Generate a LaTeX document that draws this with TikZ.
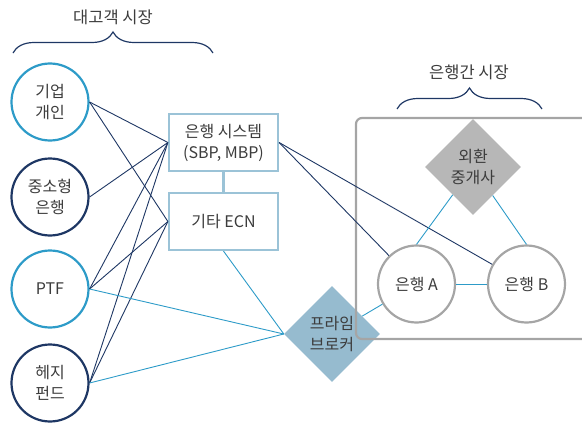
\documentclass[tikz,border=0pt]{standalone}
\usepackage{fontspec}
\setmainfont{Noto Sans CJK KR}
\usetikzlibrary{shapes.geometric, decorations.pathreplacing}
\definecolor{navy}{RGB}{30, 55, 100}
\definecolor{cyanblue}{RGB}{45, 155, 200}
\definecolor{boxblue}{RGB}{155, 195, 215}
\definecolor{pbblue}{RGB}{150, 187, 207}
\definecolor{framegray}{RGB}{165, 165, 165}
\definecolor{fxgray}{RGB}{183, 183, 183}
\definecolor{textgray}{RGB}{60, 60, 60}

\begin{document}
\begin{tikzpicture}[x=1pt, y=-1pt,
			client/.style={circle, draw=#1, line width=2.2pt, minimum size=77pt, inner sep=0pt, align=center},
			system/.style={rectangle, draw=boxblue, line width=2.2pt, minimum width=109pt, minimum height=57pt, align=center},
			dealer/.style={diamond, fill=#1, aspect=1, minimum size=96pt, inner sep=0pt, align=center},
			bank/.style={circle, draw=framegray, line width=2.2pt, minimum size=77pt, inner sep=0pt},
			darklink/.style={navy, line width=0.9pt},
			bluelink/.style={cyanblue, line width=0.9pt},
			bracket/.style={navy, line width=1.2pt, decorate, decoration={brace, amplitude=21pt}},
			heading/.style={font=\fontsize{16.5}{21}\selectfont},
			text=textgray, font=\fontsize{16}{21}\selectfont]
			% Bildbereich
			\clip (0,0) rectangle (582,423);
			% Kunden
			\node[client=cyanblue] (corp) at (50,102) {기업\\개인};
			\node[client=navy] (small) at (50,197) {중소형\\은행};
			\node[client=cyanblue] (ptf) at (50,289) {PTF};
			\node[client=navy] (hedge) at (50,383) {헤지\\펀드};
			% Systeme
			\node[system] (sys) at (223.5,142.5) {은행 시스템\\(SBP, MBP)};
			\node[system] (ecn) at (223.5,221.5) {기타 ECN};
			\node[dealer=pbblue] (prime) at (332,334) {프라임\\브로커};
			% Interbankenmarkt
			\draw[framegray, line width=2.2pt, rounded corners=6pt] (600,118) -- (356,118) -- (356,339) -- (600,339);
			\node[dealer=fxgray] (fx) at (473,167) {외환\\중개사};
			\node[bank] (bankA) at (416.5,284) {은행 A};
			\node[bank] (bankB) at (526.5,284) {은행 B};
			% Klammern
			\node[heading] (retail) at (113,17) {대고객 시장};
			\draw[bracket] (13,53) -- (213,53);
			\node[heading] (inter) at (469,72) {은행간 시장};
			\draw[bracket] (397,109) -- (542,109);
			% Verbindungen
			\draw[boxblue, line width=2.2pt] (sys) -- (ecn);
			\foreach \c in {corp, small, ptf, hedge} \draw[darklink] (\c.east) -- (sys.west);
			\foreach \c in {corp, ptf, hedge} \draw[darklink] (\c.east) -- (ecn.west);
			\draw[darklink] (sys.east) -- (bankA);
			\draw[darklink] (sys.east) -- (bankB);
			\foreach \c in {ptf, hedge} \draw[bluelink] (\c.east) -- (prime.west);
			\draw[bluelink] (ecn.south) -- (prime.west);
			\draw[bluelink] (prime) -- (bankA);
			\draw[bluelink] (fx) -- (bankA.north);
			\draw[bluelink] (fx) -- (bankB.north);
			\draw[bluelink] (bankA) -- (bankB);
		\end{tikzpicture}
\end{document}
